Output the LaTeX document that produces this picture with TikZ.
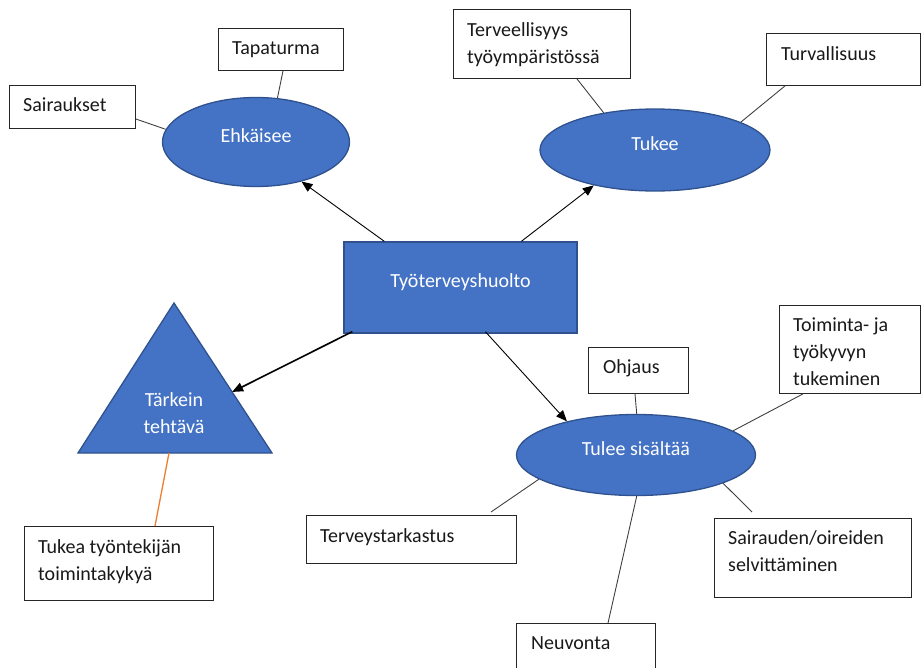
\documentclass[tikz,border=0pt]{standalone}
\usepackage{fontspec}
\setmainfont{Carlito}
\usetikzlibrary{calc,arrows.meta,shapes.geometric}
\definecolor{ofblue}{HTML}{4472C4}
\definecolor{ofdark}{HTML}{2F528F}
\definecolor{ofline}{HTML}{404040}
\definecolor{oforange}{HTML}{ED7D31}
\tikzset{
  box/.style={draw=black!85, line width=0.9pt, rectangle, anchor=north west, inner sep=0pt, fill=white},
  btext/.style={anchor=base west, inner sep=0pt, align=left, font=\fontsize{20}{27}\selectfont, text=black!90},
  blob/.style={ellipse, draw=ofdark, line width=1.3pt, fill=ofblue, inner sep=0pt, text=white, font=\fontsize{20}{27}\selectfont, text height=7pt, text depth=7pt},
  core/.style={rectangle, draw=ofdark, line width=1.3pt, fill=ofblue, inner sep=0pt, text=white, font=\fontsize{20}{27}\selectfont, text height=7pt, text depth=7pt},
  link/.style={draw=ofline, line width=0.9pt},
  orangelink/.style={draw=oforange, line width=1.3pt},
  arr/.style={draw=black, line width=0.9pt, -{Triangle[length=11pt,width=9pt]}},
}
\begin{document}
\begin{tikzpicture}[x=1pt,y=-1pt]
\useasboundingbox (0,0) rectangle (921,667);
% boxes (text anchored at the baseline of its last line)
\node[box, minimum width=126pt, minimum height=43pt] (sair) at (9,85) {};
\node[btext] (sairT) at ($(sair.north west)+(14,26)$) {Sairaukset};
\node[box, minimum width=125pt, minimum height=42pt] (tap) at (218,28) {};
\node[btext] (tapT) at ($(tap.north west)+(14,26)$) {Tapaturma};
\node[box, minimum width=177pt, minimum height=69pt] (terv) at (453,9) {};
\node[btext] (tervT) at ($(terv.north west)+(14,54)$) {Terveellisyys\\työympäristössä};
\node[box, minimum width=154pt, minimum height=52pt] (turv) at (766,33) {};
\node[btext] (turvT) at ($(turv.north west)+(15,27)$) {Turvallisuus};
\node[box, minimum width=189pt, minimum height=74pt] (tukea) at (24,526) {};
\node[btext] (tukeaT) at ($(tukea.north west)+(14,54)$) {Tukea työntekijän\\toimintakykyä};
\node[box, minimum width=210pt, minimum height=48pt] (terst) at (306,515) {};
\node[btext] (terstT) at ($(terst.north west)+(14,27)$) {Terveystarkastus};
\node[box, minimum width=100pt, minimum height=46pt] (ohj) at (588,347) {};
\node[btext] (ohjT) at ($(ohj.north west)+(15,26)$) {Ohjaus};
\node[box, minimum width=141pt, minimum height=88pt] (toim) at (779,305) {};
\node[btext] (toimT) at ($(toim.north west)+(14,80)$) {Toiminta- ja\\työkyvyn\\tukeminen};
\node[box, minimum width=197pt, minimum height=79pt] (sai2) at (714,518) {};
\node[btext] (sai2T) at ($(sai2.north west)+(14,53)$) {Sairauden/oireiden\\selvittäminen};
\node[box, minimum width=139pt, minimum height=60pt] (neu) at (516,623) {};
\node[btext] (neuT) at ($(neu.north west)+(15,26)$) {Neuvonta};
% blue shapes
\node[blob, minimum width=187pt, minimum height=89pt] (ehk) at (256,142) {Ehkäisee};
\node[blob, minimum width=230pt, minimum height=82pt] (tuk) at (655,150) {Tukee};
\node[blob, minimum width=239pt, minimum height=81pt] (tul) at (636,455) {Tulee sisältää};
\node[core, minimum width=233pt, minimum height=91pt] (tyo) at (460.5,287.5) {Työterveyshuolto};
\coordinate (triA) at (174,303);
\coordinate (triB) at (78,453);
\coordinate (triC) at (272,453);
\filldraw[fill=ofblue, draw=ofdark, line width=1.3pt, line join=miter] (triA) -- (triB) -- (triC) -- cycle;
\node[anchor=base, inner sep=0pt, align=center, text=white, font=\fontsize{20}{27}\selectfont] (triT) at (174,433) {Tärkein\\tehtävä};
\coordinate (trihit) at ($(triA)!0.593!(triC)$);
\coordinate (tribase) at ($(triB)!0.469!(triC)$);
% connectors
\draw[link] ($(sair.north east)+(0,34)$) -- (ehk.172);
\draw[link] ($(tap.south west)+(65,0)$) -- (ehk.64);
\draw[arr] ($(tyo.north west)+(41,0)$) -- (ehk.-41);
\draw[link] ($(terv.south west)+(124,0)$) -- (tuk.144);
\draw[link] ($(turv.south west)+(19,0)$) -- (tuk.18);
\draw[arr] ($(tyo.north west)+(178,0)$) -- (tuk.-150);
\draw[arr] ($(tyo.south west)+(142,-2)$) -- (tul.154);
\draw[arr, line width=1.6pt] ($(tyo.south west)+(9,-2)$) -- (trihit);
\draw[link] ($(ohj.south west)+(47,0)$) -- (tul.89);
\draw[link] ($(toim.south west)+(24,0)$) -- (tul.14);
\draw[link] (tul.-166) -- ($(terst.north west)+(185,-3)$);
\draw[link] (tul.-18) -- ($(sai2.north west)+(38,-6)$);
\draw[link] (tul.-89) -- ($(neu.north west)+(92,0)$);
\draw[orangelink] (tribase) -- ($(tukea.north west)+(131,0)$);
\end{tikzpicture}
\end{document}
